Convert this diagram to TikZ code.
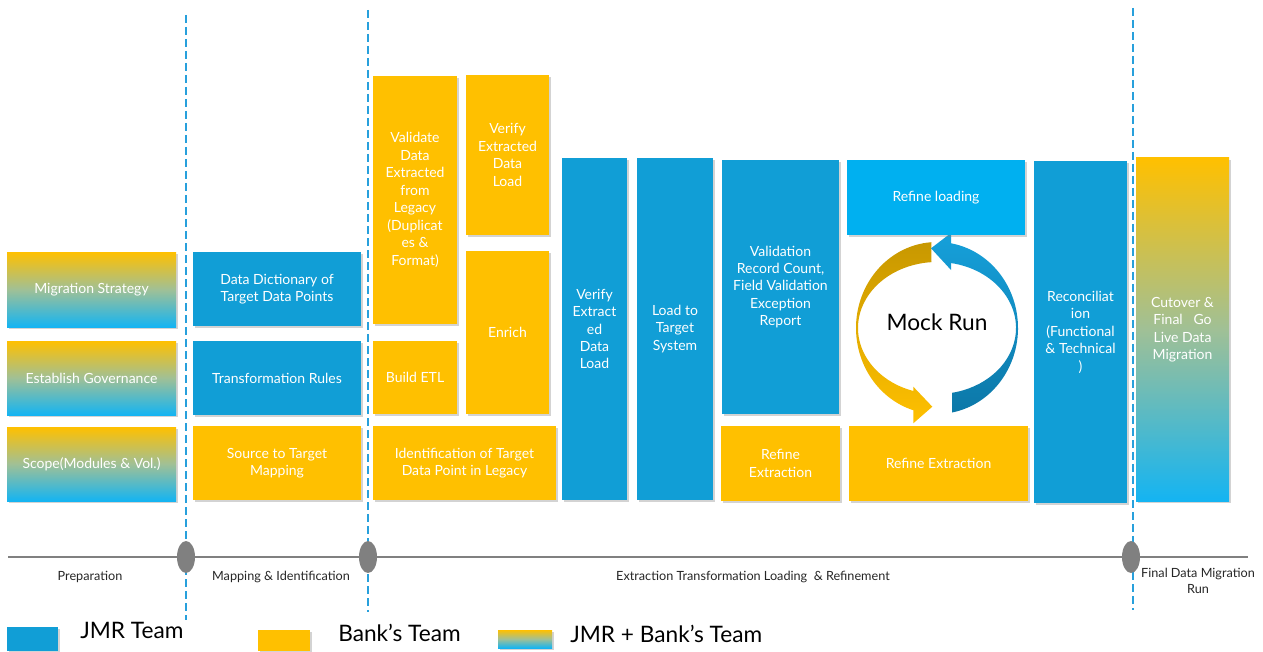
\documentclass[tikz,border=0pt]{standalone}
\usepackage{fontspec}
\setmainfont{Lato}
\usetikzlibrary{shadows,shapes.geometric}
\definecolor{jmrB}{RGB}{17,158,214}
\definecolor{bankY}{RGB}{255,192,0}
\definecolor{loadB}{RGB}{0,176,240}
\definecolor{midG}{RGB}{160,192,150}
\definecolor{lowB}{RGB}{20,180,242}
\definecolor{goldD}{RGB}{200,152,0}
\definecolor{arrB}{RGB}{22,160,218}
\definecolor{arrD}{RGB}{12,120,168}
\definecolor{sepB}{RGB}{40,160,220}
\definecolor{lineG}{RGB}{128,128,128}
\tikzset{
  sz/.style 2 args={minimum width=#1*0.75pt, minimum height=#2*0.75pt},
  box/.style={rectangle, inner sep=0pt, align=center, text=white,
    font=\fontsize{10.5}{13.1}\selectfont,
    drop shadow={shadow xshift=1.5pt, shadow yshift=-1.5pt, opacity=.35}},
  jmr/.style={box, fill=jmrB},
  bank/.style={box, fill=bankY},
  loadc/.style={box, fill=loadB},
  both/.style={box, top color=bankY, bottom color=lowB, middle color=midG},
  sep/.style={sepB, line width=1.5pt, dash pattern=on 6pt off 3pt},
  mile/.style={ellipse, fill=lineG, minimum width=13.5pt, minimum height=24pt, inner sep=0pt},
  phase/.style={font=\fontsize{9.5}{12}\selectfont, align=center, text=black!85},
  key/.style={anchor=west, inner sep=0pt, font=\fontsize{17}{20}\selectfont}
}
\begin{document}
\begin{tikzpicture}[x=0.75pt, y=0.75pt]
\useasboundingbox (0,0) rectangle (1263,651);
% separators and timeline
\coordinate (d1t) at (186,636); \coordinate (d1b) at (186,31);
\coordinate (d2t) at (368,641); \coordinate (d2b) at (368,39);
\coordinate (d3t) at (1133,643); \coordinate (d3b) at (1133,41);
\draw[sep] (d1t) -- (d1b);
\draw[sep] (d2t) -- (d2b);
\draw[sep] (d3t) -- (d3b);
\coordinate (tl0) at (8,94); \coordinate (tl1) at (1248,94);
\draw[lineG, line width=1.5pt] (tl0) -- (tl1);
\node[mile] (m1) at (186,94){};
\node[mile] (m2) at (368,94){};
\node[mile] (m3) at (1131,94){};
\node[phase] (p1) at (90,74){Preparation};
\node[phase] (p2) at (281,74){Mapping \& Identification};
\node[phase] (p3) at (753,74){Extraction Transformation Loading~ \& Refinement};
\node[phase] (p4) at (1198,70){Final Data Migration\\Run};
% mock run cycle
\coordinate (C) at (937,323);
\shade[top color=goldD, bottom color=bankY] ([shift={(94:81 and 86)}]C)
  arc[start angle=94, end angle=253, x radius=81, y radius=86]
  -- (913.3,227.7) -- (932.3,244.3) -- (913.3,264.3)
  -- ([shift={(252.5:79 and 66)}]C)
  arc[start angle=252.5, end angle=94, x radius=79, y radius=66] -- cycle;
\shade[top color=arrB, bottom color=arrD] ([shift={(-79.3:81 and 86)}]C)
  arc[start angle=-79.3, end angle=80, x radius=81, y radius=86]
  -- (951,418) -- (931,402.7) -- (951,381)
  -- ([shift={(79.8:79 and 66)}]C)
  arc[start angle=79.8, end angle=-79, x radius=79, y radius=66] -- cycle;
\node[font=\fontsize{17}{20}\selectfont] (mock) at (937,329){Mock Run};
% preparation
\node[both, sz={169}{75}] (strat) at (91.5,361.5){Migration Strategy};
\node[both, sz={169}{74}] (gov) at (91.5,273){Establish Governance};
\node[both, sz={169}{74}] (scope) at (91.5,187){Scope(Modules \& Vol.)};
% mapping
\node[jmr, sz={168}{74}] (dict) at (277,362){Data Dictionary of\\Target Data Points};
\node[jmr, sz={168}{74}] (rules) at (277,273){Transformation Rules};
\node[bank, sz={168}{74}] (map) at (277,188){Source to Target\\Mapping};
% extraction etc.
\node[bank, sz={84}{248}] (valid) at (415,451){Validate\\Data\\Extracted\\from\\Legacy\\(Duplicat\\es \&\\Format)};
\node[bank, sz={84}{73}] (etl) at (415,273.5){Build ETL};
\node[bank, sz={183}{74}] (ident) at (464.5,188){Identification of Target\\Data Point in Legacy};
\node[bank, sz={83}{160}] (verif) at (507.5,496){Verify\\Extracted\\Data\\Load};
\node[bank, sz={83}{163}] (enrich) at (507.5,318.5){Enrich};
\node[jmr, sz={65}{342}] (vext) at (594.5,322){Verify\\Extract\\ed\\Data\\Load};
\node[jmr, sz={76}{342}] (load) at (675,322){Load to\\Target\\System};
\node[jmr, sz={117}{254}] (valrep) at (780.5,364){Validation\\Record Count,\\Field Validation\\Exception\\Report};
\node[bank, sz={119}{75}] (refext1) at (780.5,187.5){Refine\\Extraction};
\node[loadc, sz={178}{75}] (refload) at (936,453.5){Refine loading};
\node[bank, sz={179}{75}] (refext2) at (938.5,187.5){Refine Extraction};
\node[jmr, sz={93}{342}] (recon) at (1080.5,319){Reconciliat\\ion\\(Functional\\\& Technical\\)};
% final run
\node[both, sz={93}{343}] (cut) at (1182.5,321.5){Cutover \&\\Final~~ Go\\Live Data\\Migration};
% legend
\node[jmr, sz={51}{24}] (kjmr) at (32.5,12){};
\node[key] (tjmr) at (80,21){JMR Team};
\node[bank, sz={52}{21}] (kbank) at (284,10.5){};
\node[key] (tbank) at (338,18){Bank’s Team};
\node[both, sz={54}{18}] (kboth) at (525,12){};
\node[key] (tboth) at (570,17){JMR + Bank’s Team};
\end{tikzpicture}
\end{document}
